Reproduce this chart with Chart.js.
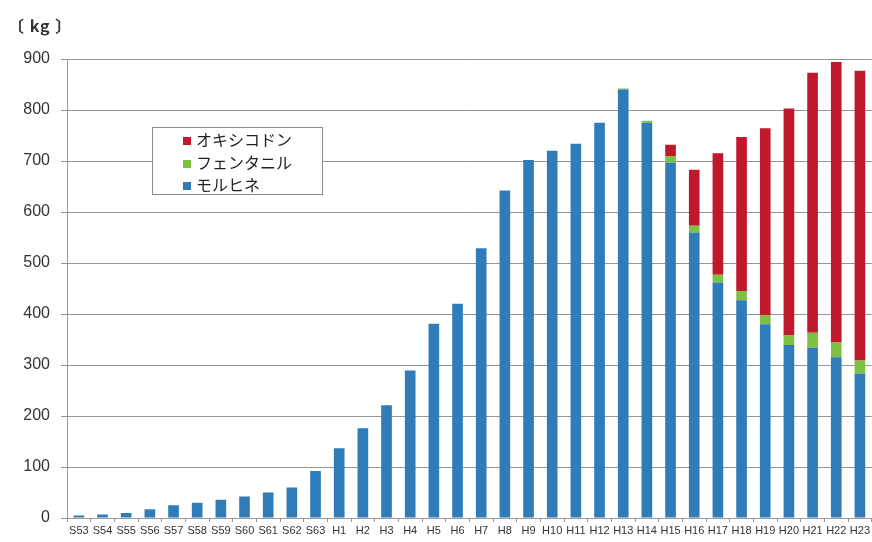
<!DOCTYPE html>
<html>
<head>
<meta charset="utf-8">
<script src="https://cdn.jsdelivr.net/npm/chart.js@4.4.1/dist/chart.umd.min.js"></script>
<style>
    body { margin: 0; background: #fff; }
    #wrap { position: relative; width: 872px; height: 542px; }
    #unidad {
        position: absolute; left: 8px; top: 13px; letter-spacing: 1px;
        font: bold 16px "Noto Sans CJK JP", sans-serif; color: #333;
    }
    #leyenda {
        position: absolute; left: 152px; top: 127px; width: 171px; height: 68px;
        border: 1px solid #8c8c8c; background: #fff; box-sizing: border-box;
        padding: 0 0 0 30px;
        font: 16px "Noto Sans CJK JP", sans-serif; color: #222;
    }
    #leyenda div { height: 22.5px; line-height: 22.5px; }
    #leyenda span {
        display: inline-block; width: 8px; height: 8px; margin-right: 5px; vertical-align: 1px;
    }
</style>
</head>
<body>
<div id="wrap">
    <canvas id="grafico" width="872" height="542"></canvas>
    <div id="unidad">〔 kg 〕</div>
    <div id="leyenda"></div>
</div>
<script>
// años (Showa 53 .. Heisei 23)
var labels = ['S53','S54','S55','S56','S57','S58','S59','S60','S61','S62','S63',
    'H1','H2','H3','H4','H5','H6','H7','H8','H9','H10','H11','H12',
    'H13','H14','H15','H16','H17','H18','H19','H20','H21','H22','H23'];

var morfina = [5, 7, 10, 17, 25, 30, 36, 42, 50, 60, 92,
    137, 176, 221, 289, 381, 420, 529, 642, 702, 720, 734, 775,
    840, 775, 697, 560, 462, 427, 380, 339, 334, 315, 283];

var fentanilo = [0, 0, 0, 0, 0, 0, 0, 0, 0, 0, 0,
    0, 0, 0, 0, 0, 0, 0, 0, 0, 0, 0, 0,
    2, 4, 13, 13, 15, 18, 17, 19, 29, 29, 26];

var oxicodona = [0, 0, 0, 0, 0, 0, 0, 0, 0, 0, 0,
    0, 0, 0, 0, 0, 0, 0, 0, 0, 0, 0, 0,
    0, 0, 22, 110, 238, 302, 367, 445, 510, 550, 568];

var nombres = ['モルヒネ', 'フェンタニル', 'オキシコドン'];
var colores = ['#2f7cb8', '#7dc143', '#c0192b'];
var yTicks = [0, 100, 200, 300, 400, 500, 600, 700, 800, 900];

var app = {
    chart : '',
    init : function(){
        var series = [morfina, fentanilo, oxicodona];
        var datasets = [];
        for (var i = 0; i < series.length; i++) {
            datasets.push({
                label: nombres[i],
                data: series[i],
                backgroundColor: colores[i],
                barPercentage: 0.45,
                categoryPercentage: 1
            });
        }
        app.chart = new Chart(document.getElementById('grafico'), {
            type: 'bar',
            data: { labels: labels, datasets: datasets },
            options: {
                responsive: false,
                animation: false,
                layout: { padding: { top: 59, right: 0, left: 0, bottom: 0 } },
                plugins: { legend: { display: false }, tooltip: { enabled: false } },
                scales: {
                    x: {
                        stacked: true,
                        grid: { drawOnChartArea: false, drawTicks: true, tickLength: 4, color: '#999' },
                        border: { color: '#999' },
                        ticks: {
                            autoSkip: false, maxRotation: 0, padding: 2,
                            color: '#333', font: { family: 'Liberation Sans', size: 11 }
                        },
                        afterFit: function(scale){ scale.height = 24; }
                    },
                    y: {
                        stacked: true,
                        min: 0,
                        max: yTicks[yTicks.length - 1],
                        afterBuildTicks: function(scale){
                            scale.ticks = yTicks.map(function(v){ return { value: v }; });
                        },
                        grid: { color: '#959595', tickLength: 6 },
                        border: { color: '#999' },
                        ticks: {
                            padding: 11,
                            color: '#333', font: { family: 'Liberation Sans', size: 16 }
                        },
                        afterFit: function(scale){ scale.width = 67; }
                    }
                }
            }
        });
        app.leyenda();
    },
    leyenda : function(){
        // orden inverso: la serie de arriba primero
        var html = '';
        for (var i = nombres.length - 1; i >= 0; i--) {
            html += '<div><span style="background:' + colores[i] + '"></span>' + nombres[i] + '</div>';
        }
        document.getElementById('leyenda').innerHTML = html;
    }
};

app.init();
</script>
</body>
</html>
